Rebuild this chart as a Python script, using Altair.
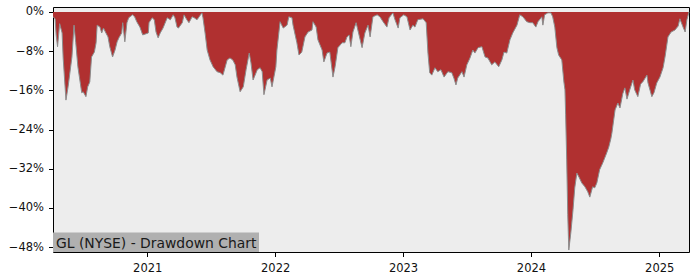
import altair as alt
import pandas as pd

dates = [
    "2020-04-07", "2020-04-13", "2020-04-16", "2020-04-20", "2020-04-26", "2020-05-03", "2020-05-06",
    "2020-05-14", "2020-05-20", "2020-05-31", "2020-06-06", "2020-06-11", "2020-06-17", "2020-06-28",
    "2020-07-02", "2020-07-10", "2020-07-15", "2020-07-21", "2020-07-26", "2020-08-03", "2020-08-08",
    "2020-08-11", "2020-08-19", "2020-08-24", "2020-08-29", "2020-09-05", "2020-09-11", "2020-09-16",
    "2020-09-24", "2020-10-01", "2020-10-07", "2020-10-12", "2020-10-20", "2020-10-23", "2020-10-29",
    "2020-11-04", "2020-11-09", "2020-11-20", "2020-11-26", "2020-12-02", "2020-12-11", "2020-12-19",
    "2021-01-04", "2021-01-06", "2021-01-15", "2021-01-21", "2021-01-26", "2021-02-01", "2021-02-07",
    "2021-02-15", "2021-02-27", "2021-03-08", "2021-03-16", "2021-03-21", "2021-03-27", "2021-03-31",
    "2021-04-11", "2021-04-16", "2021-04-24", "2021-04-30", "2021-05-09", "2021-05-15", "2021-05-23",
    "2021-05-29", "2021-06-06", "2021-06-09", "2021-06-15", "2021-06-21", "2021-06-29", "2021-07-08",
    "2021-07-19", "2021-07-28", "2021-08-05", "2021-08-17", "2021-08-25", "2021-09-02", "2021-09-09",
    "2021-09-14", "2021-09-23", "2021-10-02", "2021-10-10", "2021-10-19", "2021-10-24", "2021-10-30",
    "2021-11-11", "2021-11-19", "2021-11-25", "2021-11-30", "2021-12-09", "2021-12-18", "2021-12-23",
    "2022-01-03", "2022-01-06", "2022-01-15", "2022-01-24", "2022-02-04", "2022-02-09", "2022-02-18",
    "2022-02-21", "2022-03-04", "2022-03-10", "2022-03-18", "2022-03-27", "2022-04-05", "2022-04-16",
    "2022-04-19", "2022-04-28", "2022-05-03", "2022-05-15", "2022-05-20", "2022-05-29", "2022-06-06",
    "2022-06-15", "2022-06-21", "2022-06-29", "2022-07-11", "2022-07-19", "2022-07-25", "2022-07-31",
    "2022-08-05", "2022-08-11", "2022-08-20", "2022-08-25", "2022-09-06", "2022-09-14", "2022-09-23",
    "2022-09-29", "2022-10-07", "2022-10-19", "2022-10-27", "2022-11-05", "2022-11-16", "2022-11-22",
    "2022-12-03", "2022-12-09", "2022-12-18", "2022-12-23",
    "2023-01-03", "2023-01-12", "2023-01-21", "2023-01-29", "2023-02-04", "2023-02-12", "2023-02-27",
    "2023-03-08", "2023-03-13", "2023-03-18", "2023-03-24", "2023-04-02", "2023-04-10", "2023-04-19",
    "2023-04-28", "2023-05-09", "2023-05-20", "2023-05-26", "2023-06-01", "2023-06-06", "2023-06-18",
    "2023-06-24", "2023-07-02", "2023-07-11", "2023-07-19", "2023-07-25", "2023-08-03", "2023-08-14",
    "2023-08-23", "2023-08-31", "2023-09-11", "2023-09-20", "2023-10-01", "2023-10-10", "2023-10-16",
    "2023-10-24", "2023-11-02", "2023-11-10", "2023-11-22", "2023-11-30", "2023-12-09", "2023-12-20",
    "2023-12-29",
    "2024-01-06", "2024-01-15", "2024-01-21", "2024-02-01", "2024-02-04", "2024-02-09", "2024-02-18",
    "2024-02-27", "2024-03-03", "2024-03-09", "2024-03-15", "2024-03-20", "2024-03-29", "2024-04-04",
    "2024-04-07", "2024-04-09", "2024-04-12", "2024-04-15", "2024-04-18", "2024-04-24", "2024-04-30",
    "2024-05-05", "2024-05-11", "2024-05-17", "2024-05-25", "2024-06-03", "2024-06-11", "2024-06-17",
    "2024-06-25", "2024-07-01", "2024-07-07", "2024-07-15", "2024-07-24", "2024-08-04", "2024-08-10",
    "2024-08-16", "2024-08-19", "2024-08-28", "2024-09-05", "2024-09-11", "2024-09-19", "2024-09-25",
    "2024-10-01", "2024-10-09", "2024-10-18", "2024-10-23", "2024-11-01", "2024-11-09", "2024-11-15",
    "2024-11-27", "2024-11-30", "2024-12-11", "2024-12-17", "2024-12-25",
    "2025-01-03", "2025-01-12", "2025-01-18", "2025-01-26", "2025-02-04", "2025-02-15", "2025-02-24",
    "2025-03-01", "2025-03-10", "2025-03-16", "2025-03-21", "2025-03-27",
]

drawdown = [
    -1.0, -1.4, -4.7, -7.1, -2.4, -4.3, -9.4,
    -18.0, -15.3, -9.2, -2.7, -6.3, -11.2, -16.5,
    -16.3, -17.3, -15.3, -14.3, -9.2, -8.2, -6.3,
    -2.7, -3.1, -4.3, -3.3, -4.3, -5.1, -7.1,
    -9.2, -7.8, -6.1, -5.3, -4.3, -2.2, -6.1,
    -2.2, -1.2, -0.6, -1.0, -2.0, -3.1, -4.7,
    -4.3, -2.2, -1.2, -1.6, -4.1, -5.3, -4.3,
    -3.3, -1.2, -1.6, -0.6, -1.2, -3.1, -3.3,
    -2.2, -0.6, -1.6, -2.2, -1.0, -1.2, -1.6,
    -1.0, -0.2, -1.2, -4.3, -7.8, -9.8, -11.2,
    -12.2, -12.4, -12.9, -9.8, -9.4, -9.8, -10.8,
    -13.3, -16.3, -15.3, -11.8, -8.4, -10.4, -13.9,
    -11.8, -11.4, -12.2, -16.9, -13.9, -13.5, -15.3,
    -11.2, -7.8, -2.0, -3.3, -2.7, -1.0, -1.2,
    -2.7, -6.3, -8.8, -8.2, -5.1, -4.1, -3.7,
    -2.0, -3.1, -5.7, -7.8, -10.2, -8.4, -8.2,
    -13.3, -11.2, -7.3, -6.3, -6.3, -5.1, -4.7,
    -7.1, -4.1, -2.2, -3.7, -7.3, -4.3, -2.7,
    -5.1, -1.0, -0.6, -1.0, -2.0, -3.1, -1.2,
    -0.2, -1.6, -3.3, -1.2,
    -0.6, -1.0, -3.7, -2.7, -3.1, -1.6, -1.4,
    -2.2, -8.4, -12.4, -12.9, -11.4, -12.2, -11.8,
    -13.3, -12.2, -12.4, -13.5, -14.9, -13.5, -12.2,
    -13.3, -10.8, -9.4, -7.8, -8.4, -7.3, -7.1,
    -9.2, -9.4, -10.8, -10.2, -11.2, -9.8, -8.2,
    -8.4, -5.7, -4.3, -2.7, -0.6, -1.0, -2.0,
    -2.2,
    -2.2, -3.1, -2.0, -1.0, -2.7, -0.6, -0.2,
    -0.2, -1.0, -3.1, -7.3, -8.8, -9.8, -14.3,
    -15.9, -21.0, -30.2, -41.4, -48.6, -44.9, -40.4,
    -35.9, -32.9, -33.7, -34.9, -35.7, -36.7, -37.8,
    -35.7, -35.9, -34.9, -32.2, -30.8, -28.8, -27.6,
    -25.9, -24.7, -20.0, -18.6, -19.6, -16.7, -15.5,
    -17.8, -15.9, -13.9, -15.9, -17.3, -14.7, -14.3,
    -12.9, -14.5, -17.3, -16.5, -14.5,
    -13.3, -11.4, -9.0, -5.1, -4.1, -3.7, -2.9,
    -1.4, -3.1, -4.1, -1.6, 0.0,
]

y_ticks = [0, -8, -16, -24, -32, -40, -48]
x_ticks = ["2021-01-01", "2022-01-01", "2023-01-01", "2024-01-01", "2025-01-01"]
title_text = "GL (NYSE) - Drawdown Chart"

df = pd.DataFrame({"date": pd.to_datetime(dates), "dd": drawdown})

font = "DejaVu Sans"

x_enc = alt.X(
    "date:T",
    scale=alt.Scale(nice=False),
    axis=alt.Axis(
        title=None,
        values=[pd.Timestamp(t).isoformat() for t in x_ticks],
        format="%Y",
        grid=False,
        domain=False,
        tickColor="black",
        tickSize=4.5,
        labelFont=font,
        labelFontSize=11.5,
        labelColor="#111111",
        labelPadding=6,
        labelFlush=False,
    ),
)
y_enc = alt.Y(
    "dd:Q",
    scale=alt.Scale(domain=[-49, 1], nice=False, zero=False),
    axis=alt.Axis(
        title=None,
        values=y_ticks,
        labelExpr="datum.value == 0 ? '0%' : '\u2212' + abs(datum.value) + '%'",
        grid=False,
        domain=False,
        tickColor="black",
        tickSize=4.5,
        labelFont=font,
        labelFontSize=11.5,
        labelColor="#111111",
        labelPadding=5,
    ),
)

base = alt.Chart(df)

area = base.mark_area(color="#B03030", opacity=1).encode(
    x=x_enc, y=y_enc, y2=alt.datum(0)
)
edge = base.mark_line(color="#8C8C8C", strokeWidth=1).encode(x="date:T", y="dd:Q")

box = alt.Chart(pd.DataFrame({"t": [title_text]})).mark_rect(color="#B0B0B0").encode(
    x=alt.value(0), x2=alt.value(206), y=alt.value(225.5), y2=alt.value(245)
)
label = alt.Chart(pd.DataFrame({"t": [title_text]})).mark_text(
    align="left", baseline="alphabetic", font=font, fontSize=13.9, color="#1A1A1A"
).encode(x=alt.value(3), y=alt.value(240.5), text="t:N")

chart = (
    alt.layer(area, edge, box, label)
    .properties(
        width=636,
        height=245,
        autosize=alt.AutoSizeParams(type="none"),
        padding={"left": 53, "top": 7, "right": 11, "bottom": 28},
        background="white",
    )
    .configure_view(stroke="black", strokeWidth=1, fill="#EDEDED")
)

chart.save("out.html", embed_options={"renderer": "svg", "actions": False})
